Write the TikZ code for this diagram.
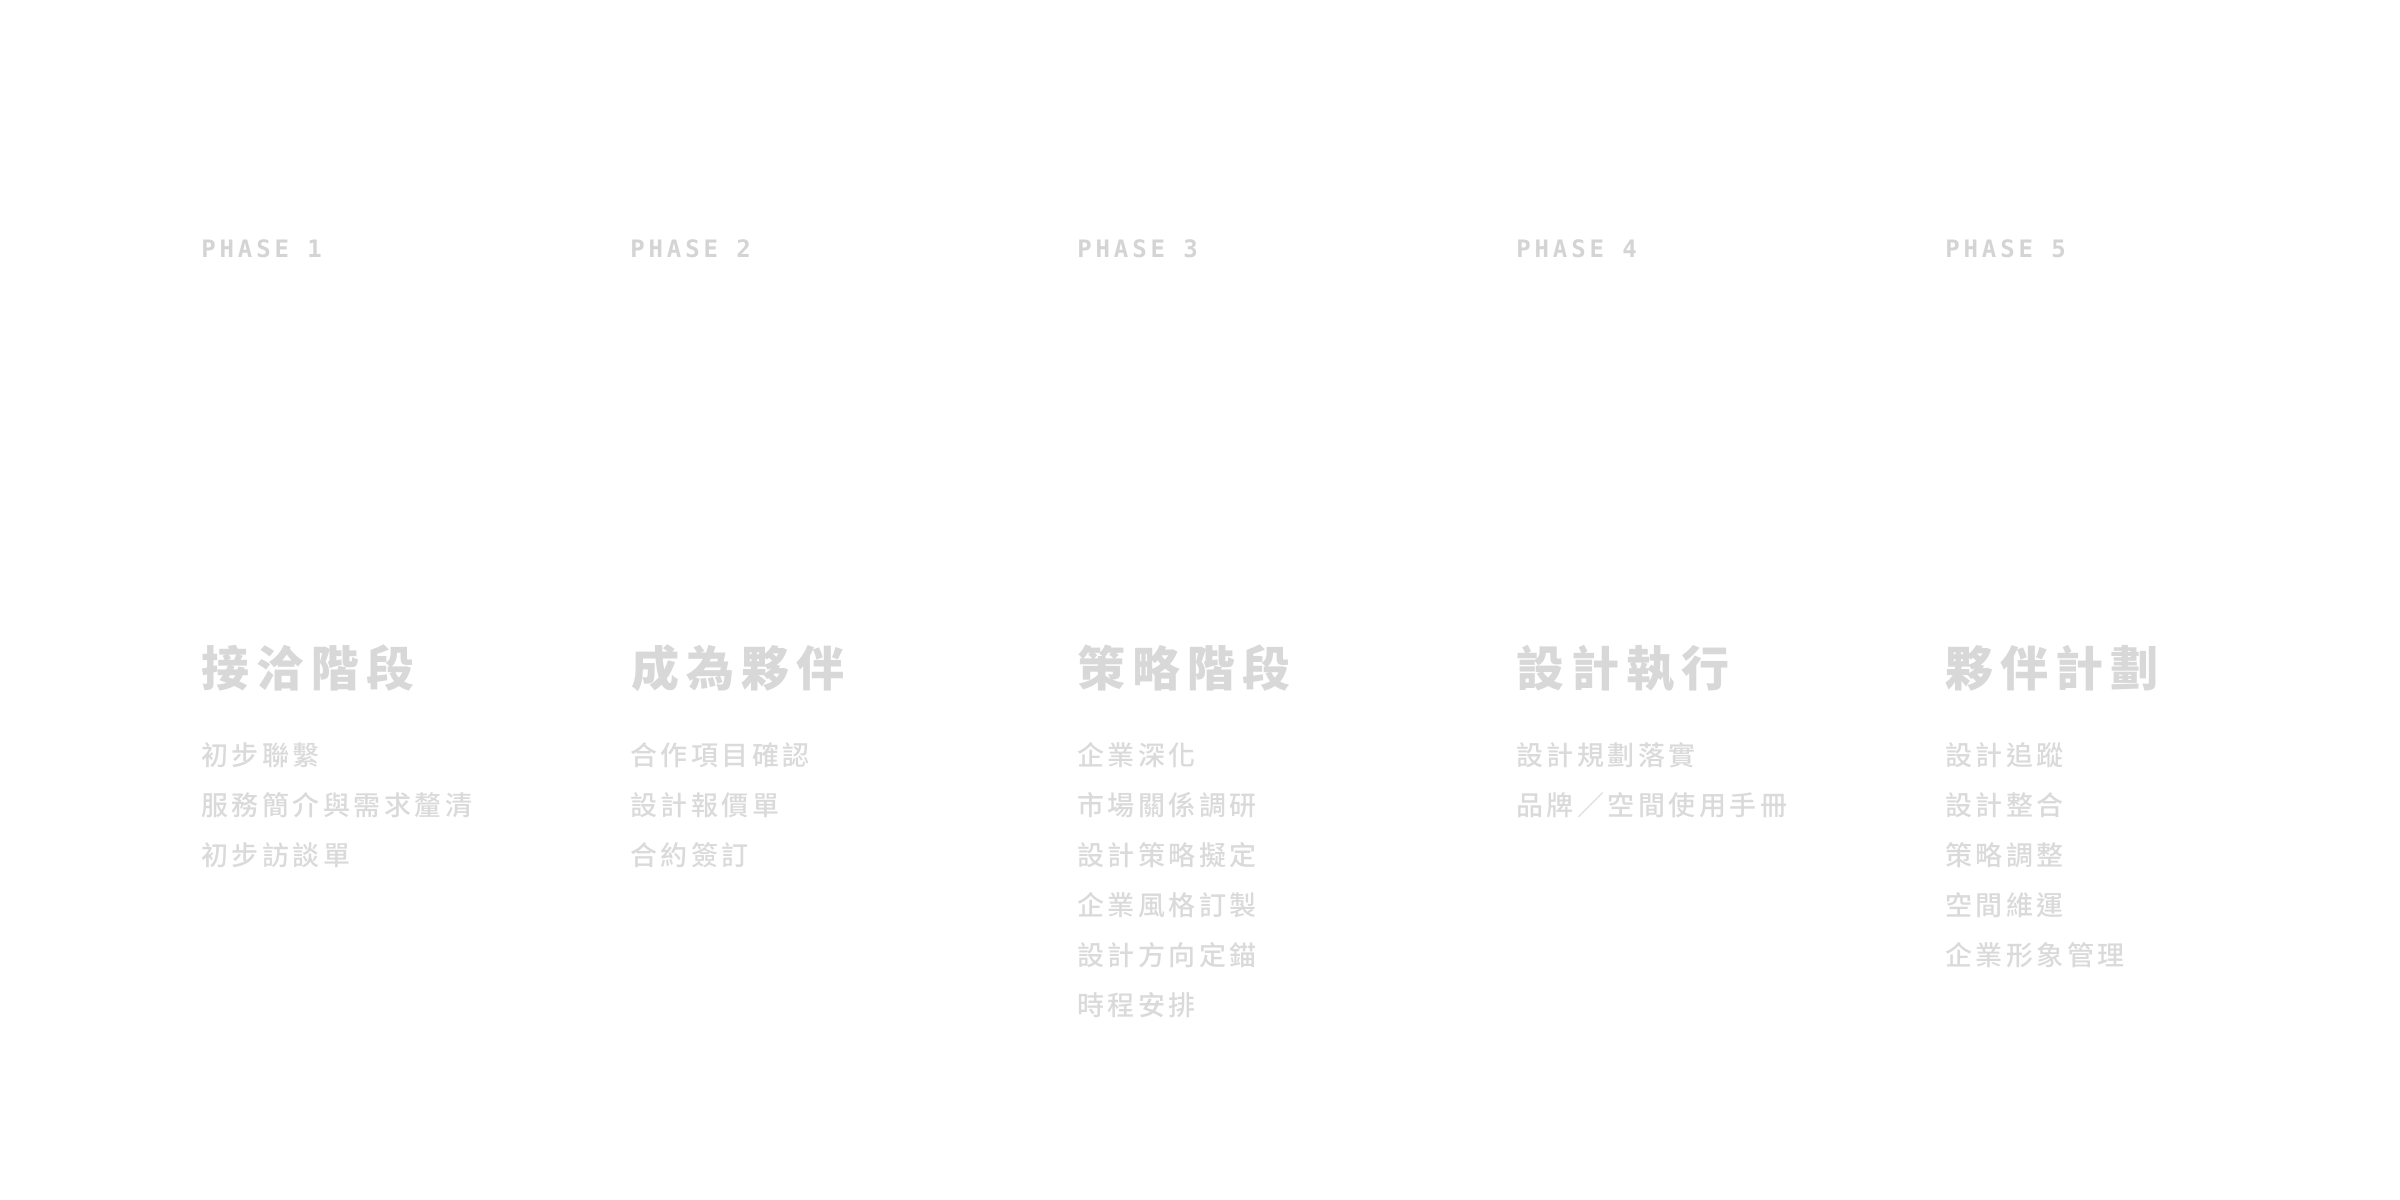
\documentclass[tikz,border=0pt]{standalone}
\usepackage{fontspec}
\usepackage{tikz}
\usetikzlibrary{positioning}

\newfontfamily\cjkfont{Noto Sans CJK TC Medium}[LetterSpace=13]
\newfontfamily\cjktitle{Noto Sans CJK TC}[LetterSpace=15]
\newfontfamily\phasefont{DejaVu Sans Mono}[LetterSpace=16]

\definecolor{phasegray}{RGB}{212,212,212}
\definecolor{titlegray}{RGB}{216,216,216}
\definecolor{itemgray}{RGB}{218,218,218}

\tikzset{
    phase/.style={anchor=base west, inner sep=0pt, text=phasegray,
        font=\phasefont\bfseries\fontsize{12pt}{13pt}\selectfont},
    stagetitle/.style={anchor=base west, inner sep=0pt, text=titlegray,
        font=\cjktitle\bfseries\fontsize{24pt}{28pt}\selectfont},
    stageitem/.style={anchor=base west, inner sep=0pt, text=itemgray,
        font=\cjkfont\fontsize{13.5pt}{16pt}\selectfont}
}

\begin{document}
\begin{tikzpicture}[x=0.5pt, y=-0.5pt]
        % --- CANVAS ---
        \fill[white] (0,0) rectangle (2400,1200);
        \useasboundingbox (0,0) rectangle (2400,1200);

        % --- PHASE 1 ---
        \node[phase] (ph1) at (201, 257) {PHASE 1};
        \node[stagetitle] (st1) at (201, 686) {接洽階段};
        \foreach \txt [count=\i] in {初步聯繫, 服務簡介與需求釐清, 初步訪談單} {
            \node[stageitem] (it1-\i) at (201, {715+50*\i}) {\txt};
        }

        % --- PHASE 2 ---
        \node[phase] (ph2) at (630, 257) {PHASE 2};
        \node[stagetitle] (st2) at (631, 686) {成為夥伴};
        \foreach \txt [count=\i] in {合作項目確認, 設計報價單, 合約簽訂} {
            \node[stageitem] (it2-\i) at (630, {715+50*\i}) {\txt};
        }

        % --- PHASE 3 ---
        \node[phase] (ph3) at (1077, 257) {PHASE 3};
        \node[stagetitle] (st3) at (1077, 686) {策略階段};
        \foreach \txt [count=\i] in {企業深化, 市場關係調研, 設計策略擬定,
                企業風格訂製, 設計方向定錨, 時程安排} {
            \node[stageitem] (it3-\i) at (1077, {715+50*\i}) {\txt};
        }

        % --- PHASE 4 ---
        \node[phase] (ph4) at (1516, 257) {PHASE 4};
        \node[stagetitle] (st4) at (1516, 686) {設計執行};
        \foreach \txt [count=\i] in {設計規劃落實, 品牌／空間使用手冊} {
            \node[stageitem] (it4-\i) at (1516, {715+50*\i}) {\txt};
        }

        % --- PHASE 5 ---
        \node[phase] (ph5) at (1945, 257) {PHASE 5};
        \node[stagetitle] (st5) at (1945, 686) {夥伴計劃};
        \foreach \txt [count=\i] in {設計追蹤, 設計整合, 策略調整, 空間維運, 企業形象管理} {
            \node[stageitem] (it5-\i) at (1945, {715+50*\i}) {\txt};
        }
\end{tikzpicture}
\end{document}
